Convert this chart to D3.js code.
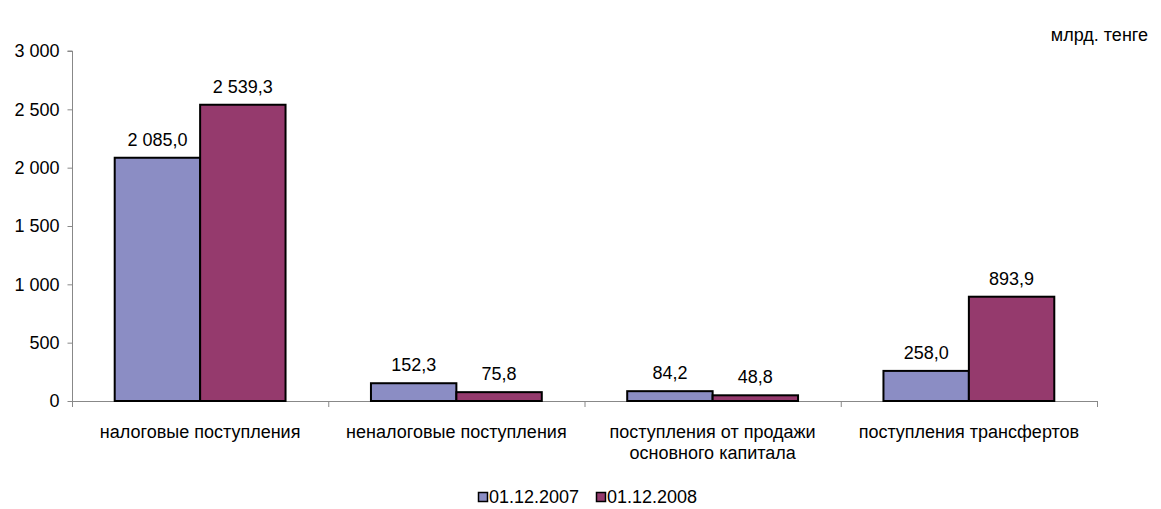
<!DOCTYPE html>
<html><head><meta charset="utf-8">
<script src="https://cdn.jsdelivr.net/npm/d3@7"></script>
<style>body{margin:0;background:#fff;}text{font-family:"Liberation Sans",Arial,sans-serif;}</style>
</head><body><svg id="c" width="1161" height="509"></svg>
<script>
const categories = [["налоговые поступления"],["неналоговые поступления"],["поступления от продажи","основного капитала"],["поступления трансфертов"]];
const series = ["01.12.2007","01.12.2008"];
const values2007 = [2085.0,152.3,84.2,258.0];
const values2008 = [2539.3,75.8,48.8,893.9];
const yTicks = [0,500,1000,1500,2000,2500,3000];
const colors = ["#8B8DC4","#953A6D"];
const unit = "млрд. тенге";

const FS = 18;
const svg = d3.select("#c");
const L=72,R=1097,T=51,B=401;
const x0 = d3.scaleBand().domain(d3.range(categories.length)).range([L,R]).paddingInner(0).paddingOuter(0);
const x1 = d3.scaleBand().domain([0,1]).range([0,x0.bandwidth()]).paddingOuter(0.5).paddingInner(0);
const y = d3.scaleLinear().domain([0,3000]).range([B,T]);
const fmt = v => d3.format(",.1f")(v).replace(/,/g," ").replace(".",",");
const fmtT = v => d3.format(",")(v).replace(/,/g," ");

// y axis
const ya = svg.append("g").attr("transform",`translate(${L+0.5},0)`).call(d3.axisLeft(y).tickValues(yTicks).tickSize(5).tickPadding(8).tickFormat(fmtT));
ya.select(".domain").attr("stroke","#888").attr("d",`M-5,${T}H0V${B}`);
ya.selectAll(".tick line").attr("stroke","#888");
ya.selectAll("text").attr("font-size",FS).attr("fill","#000").style("font-family","'Liberation Sans',Arial,sans-serif");

// x axis
const xb = svg.append("g");
xb.append("line").attr("x1",L).attr("x2",R).attr("y1",B+0.5).attr("y2",B+0.5).attr("stroke","#888");
d3.range(categories.length+1).forEach(i=>{
  const xx = i<categories.length? x0(i): R;
  xb.append("line").attr("x1",xx+0.5).attr("x2",xx+0.5).attr("y1",B).attr("y2",B+6).attr("stroke","#888");
});

const data = categories.map((c,i)=>[values2007[i],values2008[i]]);
const g = svg.append("g").selectAll("g").data(data).join("g").attr("transform",(d,i)=>`translate(${x0(i)},0)`);
g.selectAll("rect").data(d=>d).join("rect")
  .attr("x",(d,j)=>x1(j)).attr("width",x1.bandwidth())
  .attr("y",d=>y(d)).attr("height",d=>B-y(d))
  .attr("fill",(d,j)=>colors[j]).attr("stroke","#000").attr("stroke-width",2);
g.selectAll("text.v").data(d=>d).join("text").attr("class","v")
  .attr("x",(d,j)=>x1(j)+x1.bandwidth()/2).attr("y",d=>y(d)-12)
  .attr("text-anchor","middle").attr("font-size",FS).text(fmt);

// category labels
categories.forEach((lines,i)=>{
  const cx = x0(i)+x0.bandwidth()/2;
  const t = svg.append("text").attr("x",cx).attr("y",438).attr("text-anchor","middle").attr("font-size",FS);
  lines.forEach((ln,k)=>t.append("tspan").attr("x",cx).attr("dy",k?21:0).text(ln));
});

svg.append("text").attr("x",1148).attr("y",41).attr("text-anchor","end").attr("font-size",FS).text(unit);

// legend
const lg = svg.append("g");
const lx=[478,596];
series.forEach((s,i)=>{
  lg.append("rect").attr("x",lx[i]+0.5).attr("y",492.5).attr("width",9).attr("height",9).attr("fill",colors[i]).attr("stroke","#000").attr("stroke-width",1.5);
  lg.append("text").attr("x",lx[i]+11).attr("y",503).attr("font-size",FS).text(s);
});
</script></body></html>
